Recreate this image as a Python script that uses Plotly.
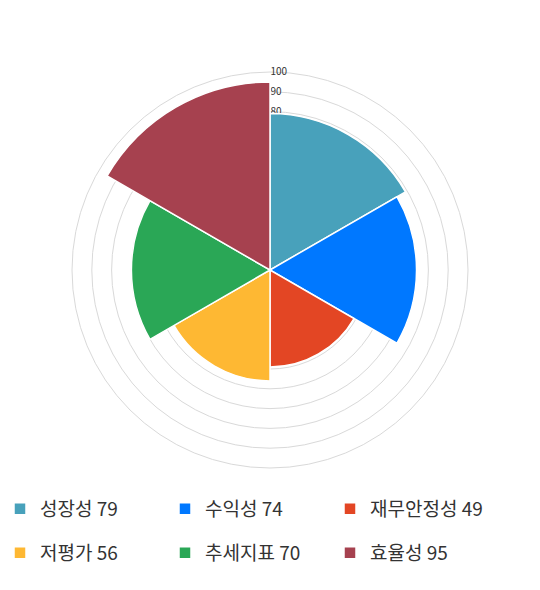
import plotly.graph_objects as go

# 항목별 점수
categories = ["성장성", "수익성", "재무안정성", "저평가", "추세지표", "효율성"]
scores = [79, 74, 49, 56, 70, 95]
angles = [30, 90, 150, 210, 270, 330]
colors = ["#48a1bb", "#0078ff", "#e34624", "#feb833", "#2aa756", "#a6414f"]
grid_vals = [0, 10, 20, 30, 40, 50, 60, 70, 80, 90, 100]
grid_text = ["", "", "", "", "", "", "", "", "80", "90", "100"]

fig = go.Figure()
for i, (name, score, ang, col) in enumerate(zip(categories, scores, angles, colors)):
    fig.add_trace(go.Barpolar(
        r=[score],
        theta=[ang],
        width=[60],
        name=f"{name} {score}",
        marker=dict(color=col, line=dict(color="white", width=1.5)),
        hoverinfo="skip",
        legend="legend" if i < 3 else "legend2",
    ))

legend_style = dict(
    orientation="h",
    x=0.0,
    xanchor="left",
    yanchor="middle",
    entrywidth=120,
    entrywidthmode="pixels",
    font=dict(size=19, color="#333333"),
    traceorder="normal",
    itemclick=False,
    bgcolor="rgba(0,0,0,0)",
)

fig.update_layout(
    width=540,
    height=590,
    paper_bgcolor="white",
    plot_bgcolor="white",
    font=dict(family="Noto Sans CJK KR, Noto Sans, sans-serif", color="#333333"),
    margin=dict(l=0, r=0, t=0, b=0),
    polar=dict(
        bgcolor="white",
        domain=dict(x=[72 / 540, 468 / 540], y=[1 - 468 / 590, 1 - 72 / 590]),
        bargap=0,
        radialaxis=dict(
            range=[0, 100],
            tickvals=grid_vals,
            ticktext=grid_text,
            angle=90,
            tickangle=90,
            showline=False,
            ticks="",
            gridcolor="#d9d9d9",
            gridwidth=1,
            tickfont=dict(size=10, color="#333333"),
            layer="below traces",
        ),
        angularaxis=dict(
            direction="clockwise",
            rotation=90,
            showticklabels=False,
            ticks="",
            showline=True,
            linecolor="#d9d9d9",
            linewidth=1,
            showgrid=False,
            layer="below traces",
        ),
    ),
    showlegend=True,
    legend=dict(legend_style, y=1 - 509 / 590),
    legend2=dict(legend_style, y=1 - 553 / 590),
)

fig.write_html(
    "out.html",
    config={"displayModeBar": False},
    post_script="document.body.style.margin = '0';",
)
